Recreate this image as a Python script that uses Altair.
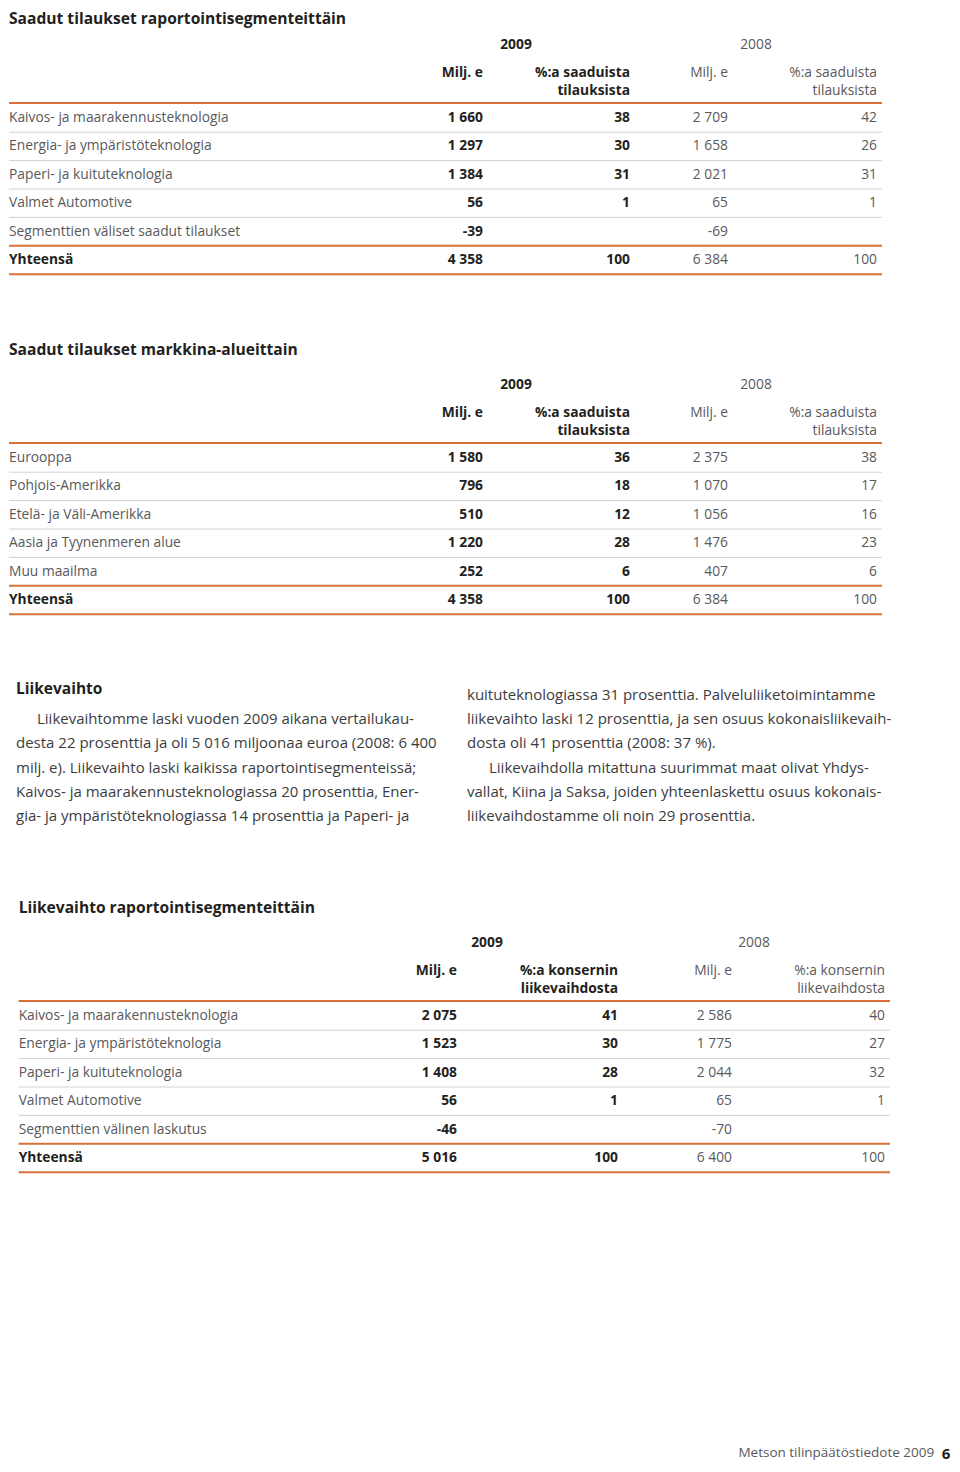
import altair as alt
import pandas as pd

# ---------------- data ----------------
seg_labels = ["Kaivos- ja maarakennusteknologia", "Energia- ja ympäristöteknologia",
              "Paperi- ja kuituteknologia", "Valmet Automotive",
              "Segmenttien väliset saadut tilaukset", "Yhteensä"]
orders_2009 = ["1 660", "1 297", "1 384", "56", "-39", "4 358"]
orders_2009_pct = ["38", "30", "31", "1", "", "100"]
orders_2008 = ["2 709", "1 658", "2 021", "65", "-69", "6 384"]
orders_2008_pct = ["42", "26", "31", "1", "", "100"]

market_labels = ["Eurooppa", "Pohjois-Amerikka", "Etelä- ja Väli-Amerikka",
                 "Aasia ja Tyynenmeren alue", "Muu maailma", "Yhteensä"]
market_2009 = ["1 580", "796", "510", "1 220", "252", "4 358"]
market_2009_pct = ["36", "18", "12", "28", "6", "100"]
market_2008 = ["2 375", "1 070", "1 056", "1 476", "407", "6 384"]
market_2008_pct = ["38", "17", "16", "23", "6", "100"]

sales_labels = ["Kaivos- ja maarakennusteknologia", "Energia- ja ympäristöteknologia",
                "Paperi- ja kuituteknologia", "Valmet Automotive",
                "Segmenttien välinen laskutus", "Yhteensä"]
sales_2009 = ["2 075", "1 523", "1 408", "56", "-46", "5 016"]
sales_2009_pct = ["41", "30", "28", "1", "", "100"]
sales_2008 = ["2 586", "1 775", "2 044", "65", "-70", "6 400"]
sales_2008_pct = ["40", "27", "32", "1", "", "100"]

years = ["2009", "2008"]
head_orders = ["%:a saaduista", "tilauksista"]
head_sales = ["%:a konsernin", "liikevaihdosta"]

para_title = "Liikevaihto"
para_left = [
    "Liikevaihtomme laski vuoden 2009 aikana vertailukau-",
    "desta 22 prosenttia ja oli 5 016 miljoonaa euroa (2008: 6 400",
    "milj. e). Liikevaihto laski kaikissa raportointisegmenteissä;",
    "Kaivos- ja maarakennusteknologiassa 20 prosenttia, Ener-",
    "gia- ja ympäristöteknologiassa 14 prosenttia ja Paperi- ja",
]
para_right = [
    "kuituteknologiassa 31 prosenttia. Palveluliiketoimintamme",
    "liikevaihto laski 12 prosenttia, ja sen osuus kokonaisliikevaih-",
    "dosta oli 41 prosenttia (2008: 37 %).",
    "Liikevaihdolla mitattuna suurimmat maat olivat Yhdys-",
    "vallat, Kiina ja Saksa, joiden yhteenlaskettu osuus kokonais-",
    "liikevaihdostamme oli noin 29 prosenttia.",
]
footer_text = "Metson tilinpäätöstiedote 2009"
page_no = "6"

# ---------------- style / layout ----------------
FONT = "Open Sans"
ORANGE = "#d9703a"
GRAY_LINE = "#d2d2d2"
DARK = "#231f20"
MID = "#59595b"
TABLE_SIZE = 13.8
TITLE_SIZE = 15.6
ROW_DY = 28.4

texts = []
lines = []


def T(x, y, text, align="left", bold=False, size=TABLE_SIZE, color=None):
    texts.append(dict(x=x, y=y, text=text, align=align, bold=bold, size=size,
                      color=color or (DARK if bold else MID)))


def add_table(top, x0, x1, cols, year_x, title, head, labels, a, ap, b, bp):
    T(x0, top, title, bold=True, size=TITLE_SIZE)
    T(year_x[0], top + 35, years[0], "center", True)
    T(year_x[1], top + 35, years[1], "center", False)
    T(cols[0], top + 63, "Milj. e", "right", True)
    T(cols[1], top + 63, head[0], "right", True)
    T(cols[1], top + 81, head[1], "right", True)
    T(cols[2], top + 63, "Milj. e", "right")
    T(cols[3], top + 63, head[0], "right")
    T(cols[3], top + 81, head[1], "right")
    lines.append(dict(x=x0, x2=x1, y=top + 93, color=ORANGE, w=2))
    n = len(labels)
    for i in range(n):
        y = top + 108 + i * ROW_DY
        last = i == n - 1
        T(x0, y, labels[i], bold=last)
        T(cols[0], y, a[i], "right", True)
        T(cols[1], y, ap[i], "right", True)
        T(cols[2], y, b[i], "right")
        T(cols[3], y, bp[i], "right")
        orange = i >= n - 2
        lines.append(dict(x=x0, x2=x1, y=y + ROW_DY / 2,
                          color=ORANGE if orange else GRAY_LINE, w=2 if orange else 1))


add_table(10, 6, 882, [483, 630, 728, 877], [516, 756],
          "Saadut tilaukset raportointisegmenteittäin", head_orders,
          seg_labels, orders_2009, orders_2009_pct, orders_2008, orders_2008_pct)
add_table(350, 6, 882, [483, 630, 728, 877], [516, 756],
          "Saadut tilaukset markkina-alueittain", head_orders,
          market_labels, market_2009, market_2009_pct, market_2008, market_2008_pct)
add_table(908, 17, 890, [457, 618, 732, 885], [487, 754],
          "Liikevaihto raportointisegmenteittäin", head_sales,
          sales_labels, sales_2009, sales_2009_pct, sales_2008, sales_2008_pct)

PARA_SIZE = 15
PARA_COLOR = "#3c3c3e"
T(14, 689, para_title, bold=True, size=15.5)
for i, s in enumerate(para_left):
    T(37 if i == 0 else 14, 719 + i * 24.3, s, size=PARA_SIZE, color=PARA_COLOR)
for i, s in enumerate(para_right):
    T(489 if i == 3 else 467, 695 + i * 24.2, s, size=PARA_SIZE, color=PARA_COLOR)

T(936, 1461, footer_text, "right", size=13.5)
T(959, 1462, page_no, "right", True, size=15)

tdf = pd.DataFrame(texts)
ldf = pd.DataFrame(lines)

# page coordinates -> plot coordinates: identity (minus the 8px page margin)
# everywhere except the outermost strips, which are squeezed so that nothing
# falls into the page margin
W, H = 944, 1456
xs = alt.Scale(domain=[6, 30, 930, 960], range=[1, 22, 922, 943])
ys = alt.Scale(domain=[10, 40, 1440, 1462], range=[11, 32, 1432, 1446])

layers = [
    alt.Chart(ldf).mark_rule().encode(
        x=alt.X("x:Q", scale=xs, axis=None),
        x2="x2:Q",
        y=alt.Y("y:Q", scale=ys, axis=None),
        color=alt.Color("color:N", scale=None),
        strokeWidth=alt.StrokeWidth("w:Q", scale=None),
    )
]
for align in ["left", "right", "center"]:
    for bold in [False, True]:
        sub = tdf[(tdf["align"] == align) & (tdf["bold"] == bold)]
        if len(sub) == 0:
            continue
        layers.append(
            alt.Chart(sub).mark_text(
                align=align, baseline="middle", font=FONT,
                fontWeight="bold" if bold else "normal",
            ).encode(
                x=alt.X("x:Q", scale=xs, axis=None),
                y=alt.Y("y:Q", scale=ys, axis=None),
                text="text:N",
                size=alt.Size("size:Q", scale=None),
                color=alt.Color("color:N", scale=None),
            )
        )

chart = alt.layer(*layers).properties(
    width=W, height=H, padding=0, autosize="none", background="white"
).configure_view(stroke=None)

chart.save("out.html", embed_options={"renderer": "svg", "actions": False})
